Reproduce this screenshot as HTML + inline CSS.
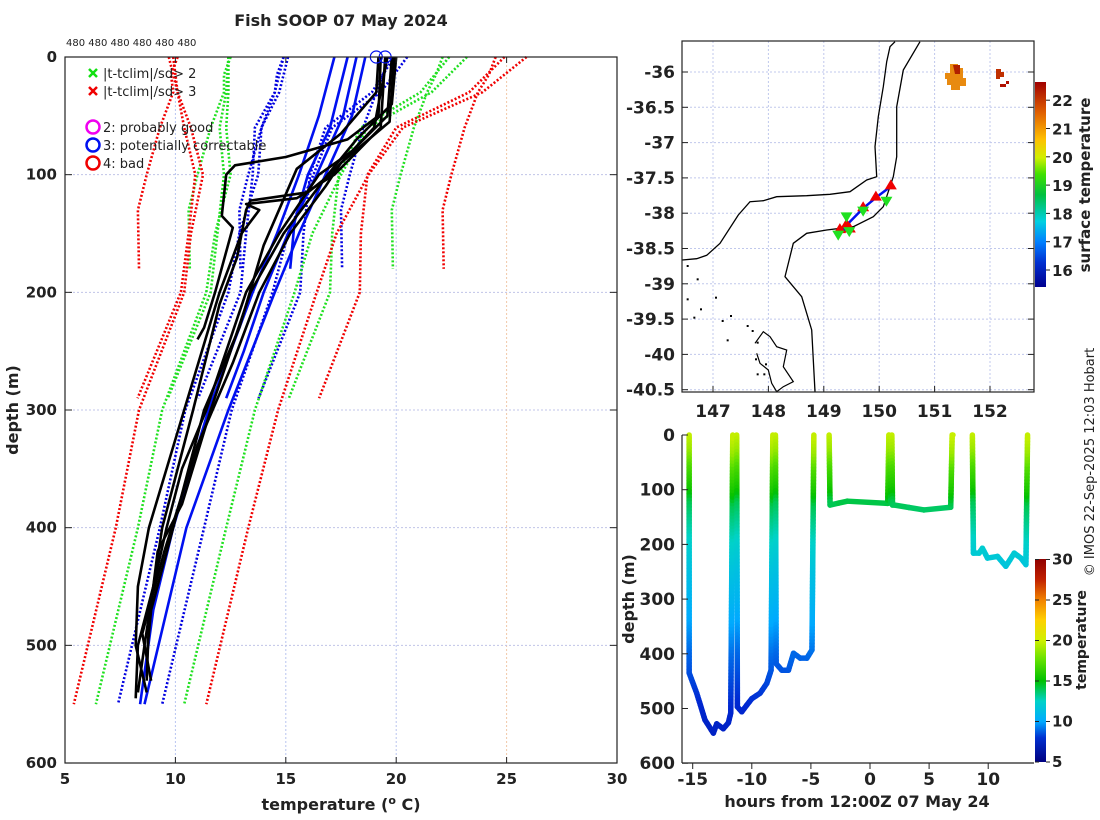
<!DOCTYPE html>
<html><head><meta charset="utf-8"><style>
body{margin:0;background:#fff}
svg{display:block;font-family:"DejaVu Sans","Liberation Sans",sans-serif}
.tk{font-weight:bold;font-size:15px;fill:#222}
.tm{font-weight:bold;font-size:17px;fill:#222}
</style></head><body>
<svg id="s" width="1100" height="820" viewBox="0 0 1100 820" xmlns="http://www.w3.org/2000/svg">
<defs>
<linearGradient id="cb1" x1="0" y1="1" x2="0" y2="0">
<stop offset="0" stop-color="#00008f"/><stop offset="0.12" stop-color="#0030d0"/><stop offset="0.22" stop-color="#0080ff"/><stop offset="0.32" stop-color="#00d0e0"/><stop offset="0.45" stop-color="#00c040"/><stop offset="0.55" stop-color="#40e000"/><stop offset="0.63" stop-color="#d0f000"/><stop offset="0.72" stop-color="#ffc000"/><stop offset="0.85" stop-color="#e06000"/><stop offset="1" stop-color="#a00000"/>
</linearGradient>
<linearGradient id="cb2" x1="0" y1="1" x2="0" y2="0">
<stop offset="0" stop-color="#00007f"/><stop offset="0.12" stop-color="#0030d0"/><stop offset="0.2" stop-color="#00aaff"/><stop offset="0.3" stop-color="#00d2c8"/><stop offset="0.4" stop-color="#00c000"/><stop offset="0.5" stop-color="#60e000"/><stop offset="0.6" stop-color="#d0f000"/><stop offset="0.7" stop-color="#ffd000"/><stop offset="0.8" stop-color="#f08000"/><stop offset="0.9" stop-color="#c02000"/><stop offset="1" stop-color="#900000"/>
</linearGradient>
</defs>
<g id="left"></g>
<g id="map"></g>
<g id="sec"></g>
<text x="341" y="26" text-anchor="middle" font-size="16" font-weight="bold" fill="#222">Fish SOOP 07 May 2024</text>
<text x="66" y="46" font-size="10" fill="#222">480 480 480 480 480 480</text>
<text transform="translate(1094,462) rotate(-90)" text-anchor="middle" font-size="13" fill="#222">© IMOS 22-Sep-2025 12:03 Hobart</text>
</svg>
<script>
const NS='http://www.w3.org/2000/svg';
function mk(p,t,a){const e=document.createElementNS(NS,t);for(const k in a)e.setAttribute(k,a[k]);p.appendChild(e);return e;}

// ---------- LEFT PANEL DATA ----------
const tempTicks=[5,10,15,20,25,30];
const depthTicks=[0,100,200,300,400,500,600];
const climShortDepths=[0,15,30,60,100,130,180];
const climShortMean=[17.3,17.0,16.8,16.2,15.6,15.2,15.25];
const climShortSd=[2.4,2.4,2.3,2.3,2.3,2.3,2.3];
const climMidDepths=[0,30,60,100,150,200,290];
const climMidMean=[17.4,16.7,15.2,14.8,14.5,14.3,12.4];
const climMidSd=[2.5,2.2,1.6,1.3,1.3,1.35,1.37];
const climDeepDepths=[0,30,60,100,150,200,300,400,550];
const climDeepMean=[17.8,17.0,15.5,15.0,14.0,13.4,11.5,10.3,8.4];
const climDeepSd=[2.7,2.3,1.6,1.25,1.1,1.0,1.05,1.0,1.0];
const blackProfiles=[
 [[0,19.3],[50,19.2],[70,17.8],[85,15.0],[92,12.7],[100,12.3],[135,12.1],[145,12.6],[200,11.8],[230,11.3],[240,11.0]],
 [[0,19.5],[60,19.3],[100,17.2],[120,15.5],[125,13.2],[130,13.8],[150,13.0],[200,12.0],[300,10.4],[400,8.8],[450,8.3],[500,8.2],[540,8.7]],
 [[0,19.8],[50,19.6],[80,18.0],[100,16.5],[150,14.7],[200,13.2],[300,11.4],[350,10.3],[400,9.6],[450,9.0],[500,8.3],[545,8.2]],
 [[0,20.0],[40,19.8],[70,18.2],[100,16.9],[150,14.9],[200,13.4],[250,12.5],[300,11.6],[380,10.3],[420,9.2],[480,8.8],[530,8.7]],
 [[0,19.2],[30,19.1],[65,17.5],[95,15.5],[160,14.0],[230,12.9],[300,11.3],[400,9.9],[470,8.9],[510,8.7]],
 [[0,19.6],[60,19.0],[100,17.0],[115,16.0],[122,13.4],[130,13.2],[170,12.8],[210,12.0],[300,10.8],[400,9.4],[500,8.6],[540,8.3]],
 [[0,19.9],[55,19.7],[90,17.5],[110,16.8],[150,15.2],[200,13.8],[260,12.6],[330,11.0],[420,9.5],[490,8.5],[530,8.9]]
];
const blueProfiles=[
 [[0,17.2],[50,16.5],[100,15.6],[150,14.6],[200,13.5],[300,11.5],[400,9.9],[470,9.0],[550,8.4]],
 [[0,17.8],[60,17.0],[100,16.0],[140,15.4],[180,15.2]],
 [[0,18.2],[50,17.6],[100,16.4],[150,15.1],[200,14.0],[250,13.1],[290,12.3]],
 [[0,18.6],[50,18.0],[100,16.8],[150,15.6],[200,14.5],[300,12.4],[400,10.5],[550,8.6]]
];
const flagTemps=[19.1,19.5];

const L=document.getElementById('left');
const xT=t=>65+(t-5)*22.08, yD=d=>57+d*1.1767;
tempTicks.forEach(t=>{if(t>5&&t<30){const g=mk(L,'line',{x1:xT(t),x2:xT(t),y1:57,y2:763,stroke:t==25?'#f0c8a8':'#b8c4f0','stroke-width':1,'stroke-dasharray':'2,2'});

}});
depthTicks.forEach(d=>{if(d>0&&d<600){const g=mk(L,'line',{x1:65,x2:617,y1:yD(d),y2:yD(d),stroke:'#c0c4e8','stroke-width':1,'stroke-dasharray':'2,2'});

}});
function climLines(ds,ms,ss,nm){
 [[-3,'#f00000'],[-2,'#20e020'],[-1,'#0000e0'],[1,'#0000e0'],[2,'#20e020'],[3,'#f00000']].forEach(([k,c])=>{
  const pts=ds.map((d,i)=>xT(ms[i]+k*ss[i]).toFixed(1)+','+yD(d).toFixed(1)).join(' ');
  const p=mk(L,'polyline',{points:pts,fill:'none',stroke:c,'stroke-width':2.6,'stroke-dasharray':'2,2'});
  
  
 });
}
climLines(climShortDepths,climShortMean,climShortSd,'short');
climLines(climMidDepths,climMidMean,climMidSd,'mid');
climLines(climDeepDepths,climDeepMean,climDeepSd,'deep');
blueProfiles.forEach(pr=>{const p=mk(L,'polyline',{points:pr.map(([d,t])=>xT(t).toFixed(1)+','+yD(d).toFixed(1)).join(' '),fill:'none',stroke:'#0010f0','stroke-width':2.6});

});
blackProfiles.forEach(pr=>{const p=mk(L,'polyline',{points:pr.map(([d,t])=>xT(t).toFixed(1)+','+yD(d).toFixed(1)).join(' '),fill:'none',stroke:'#000','stroke-width':2.6,'stroke-linejoin':'round'});

});
flagTemps.forEach(t=>{const c=mk(L,'circle',{cx:xT(t),cy:57,r:6,fill:'none',stroke:'#0010f0','stroke-width':1.2});

});
let ax=mk(L,'rect',{x:65,y:57,width:552,height:706,fill:'none',stroke:'#222','stroke-width':1.2});


tempTicks.forEach(t=>{mk(L,'line',{x1:xT(t),x2:xT(t),y1:763,y2:757,stroke:'#222'});mk(L,'line',{x1:xT(t),x2:xT(t),y1:57,y2:63,stroke:'#222'});
const tx=mk(L,'text',{x:xT(t),y:784,'text-anchor':'middle',class:'tk'});tx.textContent=t;

});
depthTicks.forEach(d=>{mk(L,'line',{x1:65,x2:72,y1:yD(d),y2:yD(d),stroke:'#222'});mk(L,'line',{x1:617,x2:610,y1:yD(d),y2:yD(d),stroke:'#222'});
const tx=mk(L,'text',{x:57,y:yD(d)+5,'text-anchor':'end',class:'tk'});tx.textContent=d;

});
let xl=mk(L,'text',{x:341,y:810,'text-anchor':'middle','font-size':16,'font-weight':'bold',fill:'#222'});
xl.innerHTML='temperature (<tspan dy="-6" font-size="11">o</tspan><tspan dy="6"> C)</tspan>';


let yl=mk(L,'text',{transform:'translate(18,410) rotate(-90)','text-anchor':'middle','font-size':16,'font-weight':'bold',fill:'#222'});yl.textContent='depth (m)';


const legG=mk(L,'g',{});


[['#10e010',73,'|t-tclim|/sd> 2'],['#f00000',91,'|t-tclim|/sd> 3']].forEach(([c,y,s])=>{
 mk(legG,'path',{d:`M89 ${y-4}l8 8M97 ${y-4}l-8 8`,stroke:c,'stroke-width':2.5});
 const t=mk(legG,'text',{x:103,y:y+5,'font-size':13,fill:'#222'});t.textContent=s;
 
 
});
[['#f000f0',127,'2: probably good'],['#0010f0',145,'3: potentially correctable'],['#f00000',163,'4: bad']].forEach(([c,y,s])=>{
 mk(legG,'circle',{cx:93,cy:y,r:6.5,fill:'none',stroke:c,'stroke-width':2.5});
 const t=mk(legG,'text',{x:103,y:y+5,'font-size':13,fill:'#222'});t.textContent=s;
 
 
});

// ---------- MAP ----------
const lonTicks=[147,148,149,150,151,152];
const latTicks=[-36,-36.5,-37,-37.5,-38,-38.5,-39,-39.5,-40,-40.5];
const sstTicks=[16,17,18,19,20,21,22];
const upLon=[150.21,149.94,149.71,149.41,149.47,149.29];
const upLat=[-37.62,-37.78,-37.93,-38.17,-38.23,-38.24];
const downLon=[150.13,149.71,149.41,149.46,149.26];
const downLat=[-37.81,-37.95,-38.03,-38.24,-38.29];
const M=document.getElementById('map');
const xL=l=>713+(l-147)*55.4, yLa=a=>72+(-36-a)*70.6;
lonTicks.forEach(l=>{mk(M,'line',{x1:xL(l),x2:xL(l),y1:41,y2:392,stroke:'#c0c8ec','stroke-dasharray':'2,2'});});
latTicks.forEach(a=>{mk(M,'line',{x1:682,x2:1034,y1:yLa(a),y2:yLa(a),stroke:'#c0c8ec','stroke-dasharray':'2,2'});});
const coastPx=[[187,690],[230,686],[260,676],[300,640],[355,555],[390,515],[430,512],[470,500],[560,497],[630,493],[690,485],[740,450],[770,440],[765,350],[775,260],[790,170],[800,95],[810,50],[825,35]];
const shelfPx=[[585,1085],[575,900],[545,800],[495,740],[520,640],[560,610],[620,600],[700,590],[760,560],[790,530],[820,440],[830,380],[830,230],[850,120],[900,35]];
const islandPx=[[405,940],[430,905],[450,920],[470,950],[500,960],[490,1010],[520,1055],[490,1070],[470,1085],[455,1060],[445,1020],[420,1000],[410,970]];
const tp=a=>a.map(([x,y])=>(620+x/3).toFixed(1)+','+(30+y/3).toFixed(1)).join(' ');
let c1=mk(M,'polyline',{points:tp(coastPx),fill:'none',stroke:'#000','stroke-width':1.3});


let c2=mk(M,'polyline',{points:tp(shelfPx),fill:'none',stroke:'#000','stroke-width':1.3});


let c3=mk(M,'polyline',{points:tp(islandPx),fill:'none',stroke:'#000','stroke-width':1.2});


[[200,705],[230,745],[200,805],[285,800],[240,835],[220,860],[305,870],[330,855],[380,885],[395,900],[320,928],[410,935],[405,985],[435,1000],[410,1030],[430,1030]].forEach(([x,y])=>mk(M,'rect',{x:620+x/3,y:30+y/3,width:2,height:2,fill:'#000'}));
let sp=mk(M,'path',{d:'M950 64h8v4h5v10h3v8h-6v4h-9v-5h-4v-6h-2v-6h5z',fill:'#e88a10'});


mk(M,'path',{d:'M953 65h7v9h-5z',fill:'#b02000'});
mk(M,'path',{d:'M996 69h5v3h3v5h-4v2h-4z',fill:'#c03000'});
mk(M,'path',{d:'M1000 84h6v-3h3v3h-3v3h-6z',fill:'#b01000'});
let tr=mk(M,'polyline',{points:upLon.map((l,i)=>xL(l)+','+yLa(upLat[i])).join(' '),fill:'none',stroke:'#0010f0','stroke-width':2.5});


upLon.forEach((l,i)=>{const x=xL(l),y=yLa(upLat[i]);const p=mk(M,'path',{d:`M${x} ${y-7}l6 10h-12z`,fill:'#f00000'});

});
downLon.forEach((l,i)=>{const x=xL(l),y=yLa(downLat[i]);const p=mk(M,'path',{d:`M${x} ${y+7}l6 -10h-12z`,fill:'#20e020'});

});
let mb=mk(M,'rect',{x:682,y:41,width:352,height:351,fill:'none',stroke:'#222','stroke-width':1.2});


lonTicks.forEach(l=>{mk(M,'line',{x1:xL(l),x2:xL(l),y1:392,y2:386,stroke:'#222'});const t=mk(M,'text',{x:xL(l),y:417,'text-anchor':'middle',class:'tm'});t.textContent=l;

});
latTicks.forEach(a=>{mk(M,'line',{x1:682,x2:688,y1:yLa(a),y2:yLa(a),stroke:'#222'});mk(M,'line',{x1:1034,x2:1028,y1:yLa(a),y2:yLa(a),stroke:'#222'});const t=mk(M,'text',{x:675,y:yLa(a)+6,'text-anchor':'end',class:'tm'});t.textContent=a;

});
const yS=v=>270-(v-16)*28.3;
let cb=mk(M,'rect',{x:1035,y:82,width:11,height:205,fill:'url(#cb1)'});


sstTicks.forEach(v=>{mk(M,'line',{x1:1046,x2:1050,y1:yS(v),y2:yS(v),stroke:'#222'});const t=mk(M,'text',{x:1052,y:yS(v)+6,class:'tk','font-size':15});t.textContent=v;

});
let sl=mk(M,'text',{transform:'translate(1090,185) rotate(-90)','text-anchor':'middle','font-size':15,'font-weight':'bold',fill:'#222'});sl.textContent='surface temperature';



// ---------- SECTION ----------
const hourTicks=[-15,-10,-5,0,5,10];
const secDepthTicks=[0,100,200,300,400,500,600];
const colTicks=[5,10,15,20,25,30];
const trackHours=[-15.3,-15.3,-14.66,-13.96,-13.25,-12.97,-12.41,-11.98,-11.78,-11.61,null,-11.28,-11.22,-10.85,-10.43,-10.0,-9.3,-8.73,-8.37,-8.22,null,-8.0,-7.94,-7.46,-6.9,-6.47,-5.9,-5.34,-4.91,-4.75,null,-3.46,-3.38,-1.91,1.5,1.6,1.75,null,1.85,1.9,2.03,4.57,6.83,6.95,7.02,null,8.66,8.75,9.23,9.51,9.94,10.79,11.49,12.2,12.77,13.19,13.33];
const trackDepths=[0,435,472,521,545,528,537,526,508,0,null,0,497,506,494,482,472,454,430,0,null,0,418,430,430,399,408,408,393,0,null,0,128,121,125,0,125,null,0,128,128,137,132,0,0,null,0,216,216,207,225,222,240,216,225,237,0];
const profDepths=[0,30,60,100,125,150,200,250,300,400,500,550];
const profTemps=[19.8,18.8,17.0,15.5,14.0,13.4,12.3,11.4,10.7,9.0,7.9,7.4];
const S=document.getElementById('sec');
const xH=h=>870+h*11.82, yS2=d=>435+d*0.547;
function tAt(d){for(let i=1;i<profDepths.length;i++){if(d<=profDepths[i]){const f=(d-profDepths[i-1])/(profDepths[i]-profDepths[i-1]);return profTemps[i-1]+f*(profTemps[i]-profTemps[i-1]);}}return profTemps[profTemps.length-1];}
const jet=[[5,[0,0,127]],[8,[0,40,210]],[10,[0,170,255]],[12.5,[0,210,200]],[15,[0,192,0]],[17.5,[96,224,0]],[20,[208,240,0]],[22.5,[255,208,0]],[25,[240,128,0]],[27.5,[192,32,0]],[30,[144,0,0]]];
function col(t){for(let i=1;i<jet.length;i++){if(t<=jet[i][0]){const f=Math.max(0,(t-jet[i-1][0])/(jet[i][0]-jet[i-1][0]));const c=jet[i-1][1].map((v,k)=>Math.round(v+f*(jet[i][1][k]-v)));return `rgb(${c})`;}}return 'rgb(144,0,0)';}
const segG=mk(S,'g',{});


for(let i=1;i<trackHours.length;i++){
 if(trackHours[i]===null||trackHours[i-1]===null)continue;
 const h0=trackHours[i-1],h1=trackHours[i],d0=trackDepths[i-1],d1=trackDepths[i];
 const n=Math.max(1,Math.ceil(Math.abs(d1-d0)/6));
 for(let k=0;k<n;k++){
  const a=k/n,b=(k+1)/n;
  const da=d0+(d1-d0)*a,db=d0+(d1-d0)*b;
  mk(segG,'line',{x1:xH(h0+(h1-h0)*a),y1:yS2(da),x2:xH(h0+(h1-h0)*b),y2:yS2(db),stroke:col(tAt((da+db)/2)),'stroke-width':5.5,'stroke-linecap':'round'});
 }
}
mk(S,'line',{x1:682,x2:682,y1:435,y2:763,stroke:'#222','stroke-width':1.2});
mk(S,'line',{x1:682,x2:1034,y1:763,y2:763,stroke:'#222','stroke-width':1.2});
hourTicks.forEach(h=>{mk(S,'line',{x1:xH(h),x2:xH(h),y1:763,y2:769,stroke:'#222'});const t=mk(S,'text',{x:xH(h),y:785,'text-anchor':'middle',class:'tm'});t.textContent=h;

});
secDepthTicks.forEach(d=>{mk(S,'line',{x1:682,x2:688,y1:yS2(d),y2:yS2(d),stroke:'#222'});const t=mk(S,'text',{x:675,y:yS2(d)+6,'text-anchor':'end',class:'tm'});t.textContent=d;

});
let hx=mk(S,'text',{x:857,y:807,'text-anchor':'middle','font-size':16,'font-weight':'bold',fill:'#222'});hx.textContent='hours from 12:00Z 07 May 24';


let hy=mk(S,'text',{transform:'translate(634,599) rotate(-90)','text-anchor':'middle','font-size':16,'font-weight':'bold',fill:'#222'});hy.textContent='depth (m)';


const yC=v=>762-(v-5)*8.1;
let cb2=mk(S,'rect',{x:1035,y:559,width:11,height:203,fill:'url(#cb2)'});


colTicks.forEach(v=>{mk(S,'line',{x1:1046,x2:1050,y1:yC(v),y2:yC(v),stroke:'#222'});mk(S,'line',{x1:1035,x2:1039,y1:yC(v),y2:yC(v),stroke:'#222'});const t=mk(S,'text',{x:1052,y:yC(v)+5,class:'tk','font-size':14});t.textContent=v;

});
let tl=mk(S,'text',{transform:'translate(1086,640) rotate(-90)','text-anchor':'middle','font-size':14,'font-weight':'bold',fill:'#222'});tl.textContent='temperature';


</script>
</body></html>
